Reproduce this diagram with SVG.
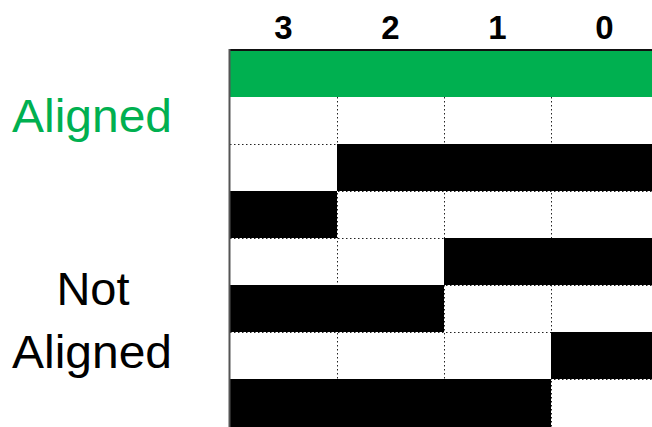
<svg xmlns="http://www.w3.org/2000/svg" width="652" height="427" viewBox="0 0 652 427">
<style>
.hdr{font-family:"Liberation Sans",Arial,sans-serif;font-weight:bold;font-size:33px;fill:#000;text-anchor:middle}
.lbl{font-family:"Liberation Sans",Arial,sans-serif;font-size:47px;text-anchor:middle}
.dot{stroke:#222;stroke-width:1;stroke-dasharray:1.5 2.5;fill:none}
.blk{fill:#000}
</style>
<rect width="652" height="427" fill="#fff"/>
<g id="headers">
<text class="hdr" x="283.5" y="39">3</text>
<text class="hdr" x="390.5" y="39">2</text>
<text class="hdr" x="497.5" y="39">1</text>
<text class="hdr" x="604.5" y="39">0</text>
</g>
<g id="label-aligned"><text class="lbl" x="92" y="132" fill="#00B050" textLength="160" lengthAdjust="spacingAndGlyphs">Aligned</text></g>
<g id="label-not-aligned">
<text class="lbl" x="93" y="305" fill="#000">Not</text>
<text class="lbl" x="92" y="368" fill="#000" textLength="160" lengthAdjust="spacingAndGlyphs">Aligned</text>
</g>
<g id="grid-lines">
<line class="dot" x1="230" y1="144.5" x2="652" y2="144.5"/>
<line class="dot" x1="230" y1="191.5" x2="652" y2="191.5"/>
<line class="dot" x1="230" y1="238.5" x2="652" y2="238.5"/>
<line class="dot" x1="230" y1="285.5" x2="652" y2="285.5"/>
<line class="dot" x1="230" y1="332.5" x2="652" y2="332.5"/>
<line class="dot" x1="230" y1="379.5" x2="652" y2="379.5"/>
<line class="dot" x1="337.5" y1="97" x2="337.5" y2="427"/>
<line class="dot" x1="444.5" y1="97" x2="444.5" y2="427"/>
<line class="dot" x1="551.5" y1="97" x2="551.5" y2="427"/>
</g>
<g id="row-green"><rect x="230" y="50" width="430" height="47" fill="#00B050"/></g>
<g id="row2"><rect class="blk" x="337" y="144" width="323" height="47"/></g>
<g id="row3"><rect class="blk" x="230" y="191" width="107" height="47"/></g>
<g id="row4"><rect class="blk" x="444" y="238" width="216" height="47"/></g>
<g id="row5"><rect class="blk" x="230" y="285" width="214" height="47"/></g>
<g id="row6"><rect class="blk" x="551" y="332" width="109" height="47"/></g>
<g id="row7"><rect class="blk" x="230" y="379" width="321" height="48"/></g>
<g id="border">
<line x1="229.5" y1="50" x2="652" y2="50" stroke="#111" stroke-width="2"/>
<line x1="229.5" y1="49" x2="229.5" y2="427" stroke="#555" stroke-width="2"/>
</g>
</svg>
